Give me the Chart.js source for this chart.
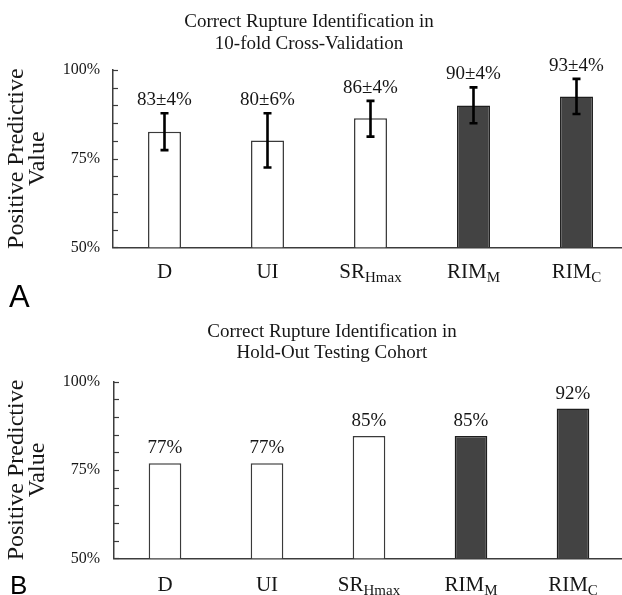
<!DOCTYPE html>
<html>
<head>
<meta charset="utf-8">
<script src="https://cdn.jsdelivr.net/npm/chart.js@4.4.1/dist/chart.umd.min.js"></script>
<style>
  html, body { margin: 0; padding: 0; background: #fff; overflow: hidden; }
  body { width: 622px; height: 595px; position: relative; }
  .panel { position: absolute; left: 0; }
  #wrapA { top: 0; width: 628px; height: 312px; }
  #wrapB { top: 297px; width: 624px; height: 298px; }
</style>
</head>
<body>
<div class="panel" id="wrapA"><canvas id="chartA"></canvas></div>
<div class="panel" id="wrapB"><canvas id="chartB"></canvas></div>
<script>
// category names, split into main text and subscript
const categoryMain = ['D', 'UI', 'SR', 'RIM', 'RIM'];
const categorySub = ['', '', 'Hmax', 'M', 'C'];

// panel A: 10-fold cross-validation (mean with error bar)
const cvValues = [82.6, 80.1, 86.4, 90.0, 92.5];
const cvErrLow = [77.4, 72.5, 81.2, 85.0, 87.6];
const cvErrHigh = [87.8, 87.8, 91.3, 95.1, 97.5];
const cvLabels = ['83±4%', '80±6%', '86±4%', '90±4%', '93±4%'];

// panel B: hold-out testing cohort
const holdValues = [76.9, 76.9, 84.6, 84.6, 92.4];
const holdLabels = ['77%', '77%', '85%', '85%', '92%'];

const yTickValues = [50, 75, 100];

const SERIF = '"Liberation Serif", "Times New Roman", serif';
const SANS = '"Liberation Sans", Arial, sans-serif';
const TEXT = '#161616';
const AXIS = '#3c3c3c';

const barFill = ['#ffffff', '#ffffff', '#ffffff', '#434343', '#434343'];
const barBorder = ['#3a3a3a', '#3a3a3a', '#3a3a3a', '#1e1e1e', '#1e1e1e'];

// draws titles, subscripted category labels, inward ticks, error bars, value labels
const panelDecor = {
  id: 'panelDecor',
  afterDraw(chart) {
    const cfg = chart.options.plugins.panelDecor;
    const { ctx, chartArea } = chart;
    const x = chart.scales.x;
    const y = chart.scales.y;
    const meta = chart.getDatasetMeta(0);
    ctx.save();

    // title lines
    ctx.fillStyle = TEXT;
    ctx.textAlign = 'center';
    ctx.textBaseline = 'alphabetic';
    ctx.font = '19px ' + SERIF;
    cfg.title.forEach((line, i) => ctx.fillText(line, cfg.titleX, cfg.titleY[i]));

    // inward tick marks
    ctx.strokeStyle = AXIS;
    ctx.lineWidth = 1.2;
    y.ticks.forEach(t => {
      const py = Math.round(y.getPixelForValue(t.value)) + 0.5;
      ctx.beginPath();
      ctx.moveTo(chartArea.left, py);
      ctx.lineTo(chartArea.left + 5, py);
      ctx.stroke();
    });

    // error bars
    if (cfg.errLow) {
      ctx.strokeStyle = '#000';
      ctx.lineWidth = 2.6;
      meta.data.forEach((bar, i) => {
        const yh = y.getPixelForValue(cfg.errHigh[i]);
        const yl = y.getPixelForValue(cfg.errLow[i]);
        ctx.beginPath();
        ctx.moveTo(bar.x, yh); ctx.lineTo(bar.x, yl);
        ctx.moveTo(bar.x - 4, yh); ctx.lineTo(bar.x + 4, yh);
        ctx.moveTo(bar.x - 4, yl); ctx.lineTo(bar.x + 4, yl);
        ctx.stroke();
      });
    }

    // value labels
    ctx.font = '19px ' + SERIF;
    meta.data.forEach((bar, i) => {
      const top = cfg.errHigh ? y.getPixelForValue(cfg.errHigh[i]) : bar.y;
      ctx.fillText(cfg.labels[i], bar.x, top - cfg.labelGap);
    });

    // category labels with subscripts
    ctx.textAlign = 'left';
    const base = chartArea.bottom + cfg.catDy;
    categoryMain.forEach((m, i) => {
      const cx = x.getPixelForTick(i);
      ctx.font = '21px ' + SERIF;
      const wm = ctx.measureText(m).width;
      ctx.font = '15px ' + SERIF;
      const ws = ctx.measureText(categorySub[i]).width;
      const start = cx - (wm + ws) / 2;
      ctx.font = '21px ' + SERIF;
      ctx.fillText(m, start, base);
      ctx.font = '15px ' + SERIF;
      ctx.fillText(categorySub[i], start + wm, base + 4.5);
    });

    // panel letter
    ctx.font = cfg.letterSize + 'px ' + SANS;
    ctx.fillStyle = '#000';
    ctx.fillText(cfg.letter, cfg.letterX, cfg.letterY);
    ctx.restore();
  }
};

function makeChart(id, values, cfg) {
  return new Chart(document.getElementById(id), {
    type: 'bar',
    data: {
      labels: categoryMain.map((m, i) => m + categorySub[i]),
      datasets: [{
        data: values,
        backgroundColor: barFill,
        borderColor: barBorder,
        borderWidth: 1.5,
        borderSkipped: false,
        barPercentage: 0.32,
        categoryPercentage: 1
      }]
    },
    options: {
      responsive: true,
      maintainAspectRatio: false,
      animation: false,
      layout: { padding: { top: cfg.top, left: 0, right: 0, bottom: 0 } },
      plugins: {
        legend: { display: false },
        tooltip: { enabled: false },
        panelDecor: cfg
      },
      scales: {
        x: {
          grid: { display: false, drawTicks: false },
          border: { color: AXIS, width: 1.5 },
          ticks: { display: false },
          afterFit: s => { s.height = cfg.bottom; }
        },
        y: {
          min: 50,
          max: 100,
          grid: { display: false, drawTicks: false },
          border: { color: AXIS, width: 1.5 },
          ticks: {
            stepSize: 5,
            autoSkip: false,
            padding: cfg.tickPad,
            color: TEXT,
            font: { family: SERIF, size: 16 },
            callback: v => yTickValues.includes(v) ? v + '%' : ''
          },
          title: {
            display: true,
            text: ['Positive Predictive', 'Value'],
            color: TEXT,
            font: { family: SERIF, size: 24, lineHeight: 0.85 },
            padding: { top: 7, bottom: 0 }
          },
          afterFit: s => { s.width = cfg.left; }
        }
      }
    },
    plugins: [panelDecor]
  });
}

makeChart('chartA', cvValues, {
  top: 70, bottom: 64.7, left: 113, tickPad: 13,
  title: ['Correct Rupture Identification in', '10-fold Cross-Validation'],
  titleX: 309, titleY: [27.3, 49.3],
  errLow: cvErrLow, errHigh: cvErrHigh,
  labels: cvLabels, labelGap: 8,
  catDy: 30.2,
  letter: 'A', letterSize: 31, letterX: 9, letterY: 307
});

makeChart('chartB', holdValues, {
  top: 84.7, bottom: 36.7, left: 114, tickPad: 14,
  title: ['Correct Rupture Identification in', 'Hold-Out Testing Cohort'],
  titleX: 332, titleY: [40.3, 61.3],
  errLow: null, errHigh: null,
  labels: holdLabels, labelGap: 10,
  catDy: 32.4,
  letter: 'B', letterSize: 26, letterX: 10, letterY: 297
});
</script>
</body>
</html>
